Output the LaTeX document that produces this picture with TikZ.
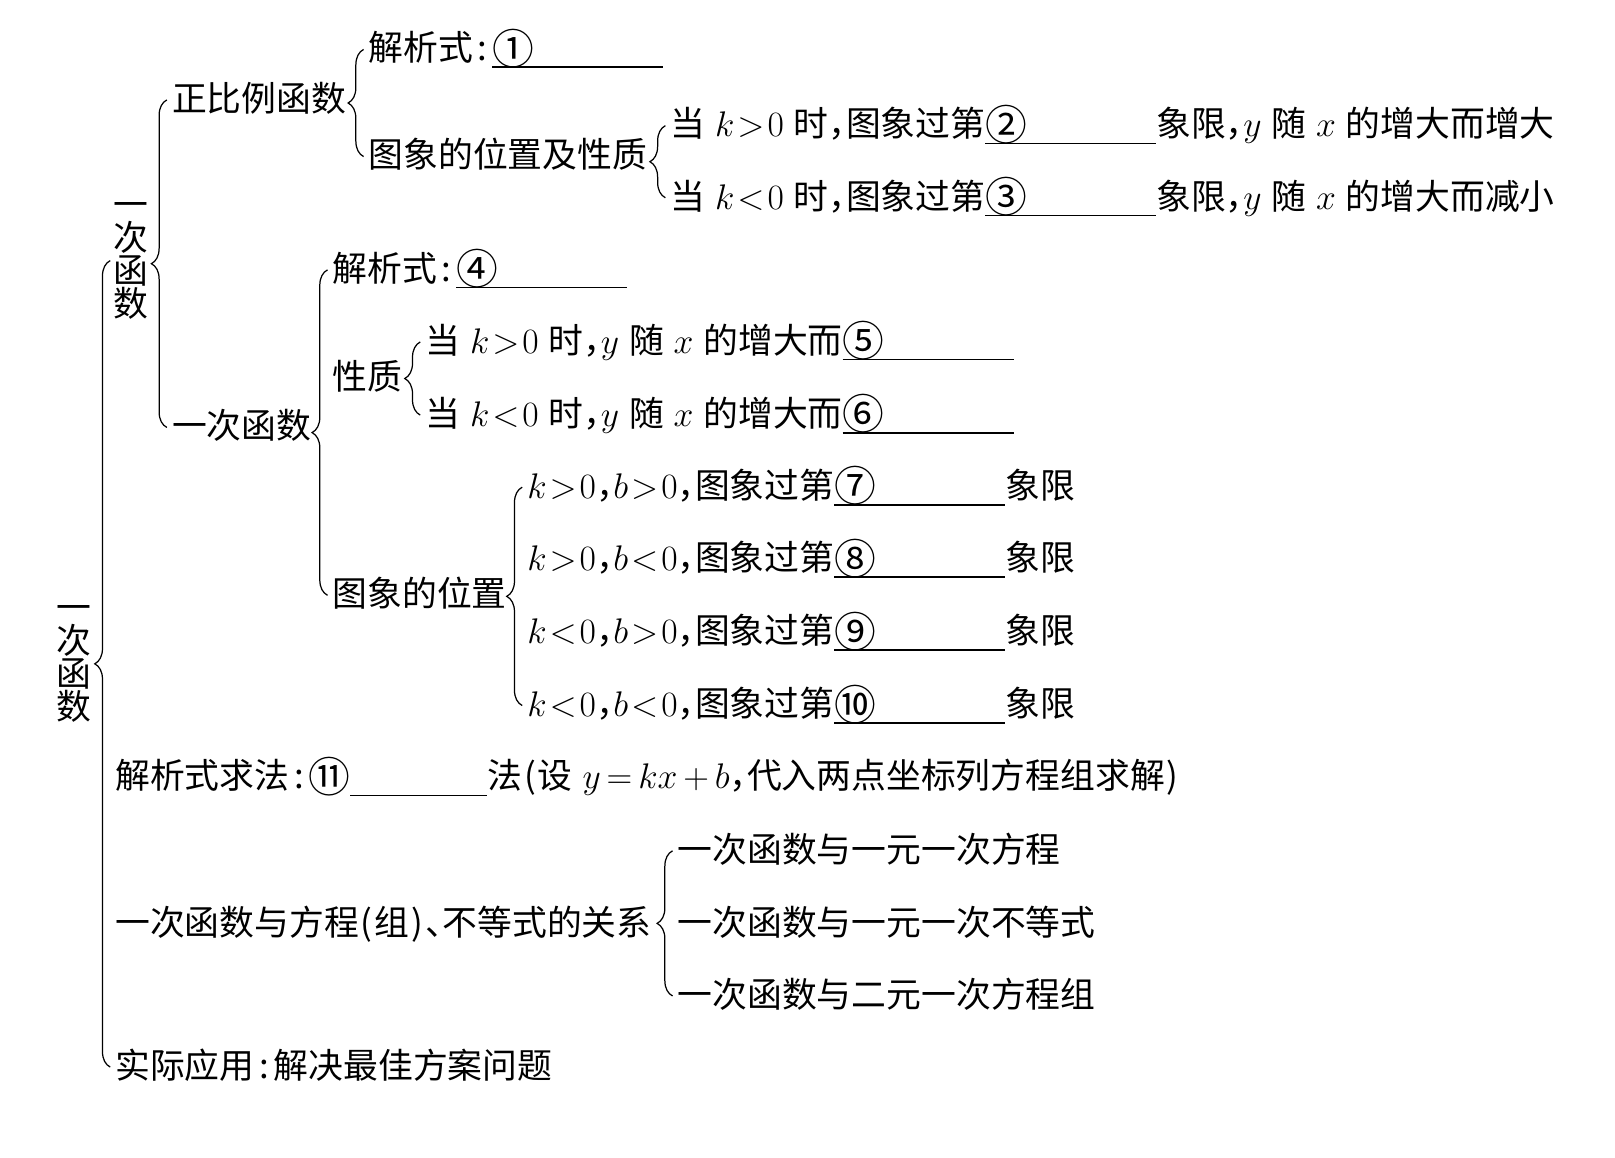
\documentclass[tikz,border=0pt]{standalone}
\usepackage{fontspec}
\usepackage{graphicx}
\setmainfont{Noto Sans CJK SC}
\usetikzlibrary{decorations.pathreplacing,calc}
\newcommand\dou{\makebox[0.5em][l]{，}}
\newcommand\mh{\makebox[0.55em]{:}}
\newcommand\dun{\makebox[0.5em][l]{、}}
\newcommand\kl{\makebox[0.45em]{(}}
\newcommand\kr{\makebox[0.45em]{)}}
\newcommand\GT{\mkern1.5mu{>}\mkern1.5mu}
\newcommand\LT{\mkern1.5mu{<}\mkern1.5mu}
\newcommand\cn[1]{\raisebox{-0.1em}{\scalebox{1.2}{#1}}}
\newcommand\ulb[2][83pt]{\makebox[0pt][l]{\cn{#2}}\rule[-3.5pt]{#1}{0.8pt}}
\newcommand\txtfont{\fontsize{16.9}{18}\selectfont\spaceskip=4.8pt\relax}
\newcommand\brc[2]{%
  \coordinate (tmp) at ($(#1.west)+(-5,0)$);
  \draw[brc] (tmp) -- (tmp |- #2.west);}
\begin{document}
\begin{tikzpicture}[x=0.5pt,y=-0.5pt,
  t/.style={anchor=west,inner sep=0pt,outer sep=0pt,font=\txtfont,text height=12.5pt,text depth=1.5pt},
  vt/.style={align=center,inner sep=0pt,outer sep=0pt,font=\fontsize{16.9}{16}\selectfont},
  brc/.style={decorate,decoration={brace,amplitude=7.5pt},line width=0.6pt}]
\fill[white] (0,0) rectangle (1568,1124);
\useasboundingbox (0,0) rectangle (1568,1124);
% nodes
\node[vt] (root) at (72,645) {一\\次\\函\\数};
\node[vt] (v2) at (127,253) {一\\次\\函\\数};
\node[t] (zb) at (167,97) {正比例函数};
\node[t] (yc) at (167,415) {一次函数};
\node[t] (jx1) at (358,48) {解析式\mh\ulb{①}};
\node[t] (tx1) at (358,152) {图象的位置及性质};
\node[t] (c2) at (651,122) {当 $k\GT0$ 时\dou 图象过第\ulb{②}象限\dou$y$ 随 $x$ 的增大而增大};
\node[t] (c3) at (651,192) {当 $k\LT0$ 时\dou 图象过第\ulb{③}象限\dou$y$ 随 $x$ 的增大而减小};
\node[t] (jx4) at (323,262) {解析式\mh\ulb{④}};
\node[t] (xz) at (323,367) {性质};
\node[t] (wz) at (323,578) {图象的位置};
\node[t] (c5) at (413,332) {当 $k\GT0$ 时\dou$y$ 随 $x$ 的增大而\ulb{⑤}};
\node[t] (c6) at (413,403) {当 $k\LT0$ 时\dou$y$ 随 $x$ 的增大而\ulb{⑥}};
\node[t] (c7) at (512,473) {$k\GT0$\dou$b\GT0$\dou 图象过第\ulb{⑦}象限};
\node[t] (c8) at (512,543) {$k\GT0$\dou$b\LT0$\dou 图象过第\ulb{⑧}象限};
\node[t] (c9) at (512,614) {$k\LT0$\dou$b\GT0$\dou 图象过第\ulb{⑨}象限};
\node[t] (c10) at (512,685) {$k\LT0$\dou$b\LT0$\dou 图象过第\ulb{⑩}象限};
\node[t] (qf) at (112,755) {解析式求法\mh\cn{⑪}\rule[-3.5pt]{66.5pt}{0.8pt}法\kl 设 $y\,{=}\,kx\,{+}\,b$\dou 代入两点坐标列方程组求解\kr};
\node[t] (gx) at (112,897) {一次函数与方程\kl 组\kr\dun 不等式的关系};
\node[t] (r1) at (658,826) {一次函数与一元一次方程};
\node[t] (r2) at (658,897) {一次函数与一元一次不等式};
\node[t] (r3) at (658,967) {一次函数与二元一次方程组};
\node[t] (yy) at (112,1036) {实际应用\mh 解决最佳方案问题};
% braces
\brc{yy}{v2}
\brc{yc}{zb}
\brc{tx1}{jx1}
\brc{c3}{c2}
\brc{wz}{jx4}
\brc{c6}{c5}
\brc{c10}{c7}
\brc{r3}{r1}
\end{tikzpicture}
\end{document}
